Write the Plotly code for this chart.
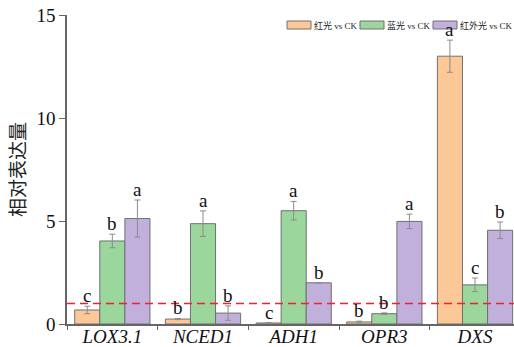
import plotly.graph_objects as go

# Genes on the x axis
genes = ["LOX3.1", "NCED1", "ADH1", "OPR3", "DXS"]

# Relative expression per treatment, with standard errors
series_names = ["红光 vs CK", "蓝光 vs CK", "红外光 vs CK"]
red_vals = [0.68, 0.24, 0.05, 0.10, 13.0]
red_err = [0.18, 0.03, 0.02, 0.04, 0.78]
blue_vals = [4.03, 4.87, 5.50, 0.50, 1.90]
blue_err = [0.33, 0.62, 0.45, 0.04, 0.33]
ir_vals = [5.12, 0.53, 2.00, 4.98, 4.55]
ir_err = [0.90, 0.35, 0.00, 0.35, 0.40]

# Significance letters per gene and treatment
red_sig = ["c", "b", "c", "b", "a"]
blue_sig = ["b", "a", "a", "b", "c"]
ir_sig = ["a", "b", "b", "a", "b"]

y_ticks = [0, 5, 10, 15]
baseline = 1

fills = ["#FDC898", "#9BD69C", "#C0B0DB"]
edge = "#707070"
serif = "Liberation Serif, Times New Roman, serif"

values = [red_vals, blue_vals, ir_vals]
errors = [red_err, blue_err, ir_err]
letters = [red_sig, blue_sig, ir_sig]

bargap = 0.17
W, H = 514, 347
ml, mr, mt, mb = 67, 0, 15, 23
pw = W - ml - mr
ph = H - mt - mb

fig = go.Figure()
for name, v, e, c in zip(series_names, values, errors, fills):
    fig.add_trace(go.Bar(
        x=genes, y=v, name=name,
        marker=dict(color=c, line=dict(color=edge, width=1)),
        error_y=dict(type="data", array=e, visible=True,
                     color="#8c8c8c", thickness=1, width=3),
        showlegend=False,
    ))

# Letters above each bar's error bar
bw = (1 - bargap) / 3
for j in range(3):
    for i, g in enumerate(genes):
        fig.add_annotation(
            x=i + (j - 1) * bw, y=values[j][i] + errors[j][i],
            xref="x", yref="y", text=letters[j][i], showarrow=False,
            yanchor="bottom", yshift=-2,
            font=dict(family=serif, size=19, color="#111"),
        )

# Reference line at relative expression = 1
fig.add_shape(type="line", xref="paper", yref="y", x0=0, x1=1,
              y0=baseline, y1=baseline, layer="above",
              line=dict(color="#F2202E", width=1.5, dash="8px,5px"))

# Legend drawn as wide swatches with labels
sw_x = [287, 360, 433]
for name, c, sx in zip(series_names, fills, sw_x):
    x0 = (sx - ml) / pw
    x1 = (sx + 24 - ml) / pw
    y0 = (H - mb - 29) / ph
    y1 = (H - mb - 21) / ph
    fig.add_shape(type="rect", xref="paper", yref="paper",
                  x0=x0, x1=x1, y0=y0, y1=y1,
                  line=dict(color=edge, width=1), fillcolor=c)
    fig.add_annotation(x=(sx + 25 - ml) / pw, y=(y0 + y1) / 2,
                       xref="paper", yref="paper", text=name,
                       showarrow=False, xanchor="left", yanchor="middle",
                       font=dict(family="Liberation Serif, Noto Sans CJK SC",
                                 size=9, color="#222"))

fig.update_layout(
    width=W, height=H,
    margin=dict(l=ml, r=mr, t=mt, b=mb),
    paper_bgcolor="white", plot_bgcolor="white",
    barmode="group", bargap=bargap, bargroupgap=0,
    xaxis=dict(
        range=[-0.5, 4.43], showline=True, linecolor="#666", linewidth=1.5,
        ticks="outside", tickson="boundaries", ticklen=4, tickcolor="#666",
        tickfont=dict(family=serif, size=19, color="#111"),
        ticklabelstandoff=-6,
        tickangle=0, automargin=False, showgrid=False,
        tickvals=genes, ticktext=[f"<i>{g}</i>" for g in genes],
    ),
    yaxis=dict(
        range=[0, 15], tickvals=y_ticks, showline=True, linecolor="#666",
        linewidth=1.5, ticks="outside", ticklen=6, tickcolor="#666",
        tickfont=dict(family=serif, size=19, color="#111"),
        showgrid=False, zeroline=False, automargin=False,
        title=dict(text="相对表达量", standoff=6,
                   font=dict(family="Noto Sans CJK SC", size=19, color="#222")),
    ),
)

fig.write_html("out.html")
